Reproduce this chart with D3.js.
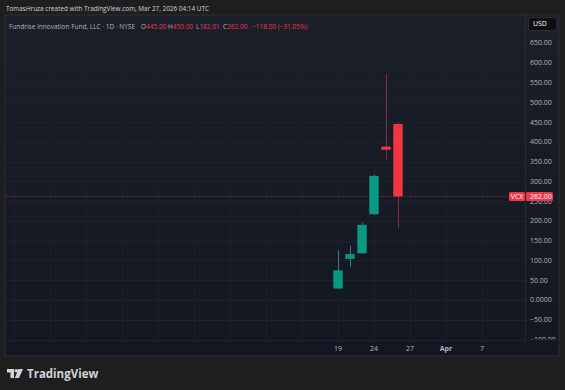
<!DOCTYPE html>
<html>
<head>
<meta charset="utf-8">
<script src="https://cdn.jsdelivr.net/npm/d3@7"></script>
<style>
  html, body { margin: 0; padding: 0; background: #1e1e1e; }
  svg { display: block; font-family: "Open Sans", "DejaVu Sans", sans-serif; }
</style>
</head>
<body>
<div id="chart"></div>
<script>
// daily bars, index 0 = Mar 19 2026
var dates = ["2026-03-19", "2026-03-20", "2026-03-23", "2026-03-24", "2026-03-25", "2026-03-26"];
var opens = [29, 104, 118, 217, 388, 445];
var highs = [126, 137, 195, 317, 572, 450];
var lows = [29, 84, 117, 215, 356, 182.01];
var closes = [75, 116, 190, 314, 380, 262];

var priceTicks = [650, 600, 550, 500, 450, 400, 350, 300, 250, 200, 150, 100, 50, 0, -50, -100];
var timeTicks = [0, 3, 6, 9, 12];
var timeLabels = ["19", "24", "27", "Apr", "7"];

var w = 565;
var h = 390;
var up = "#089981";
var down = "#f23645";

var svg = d3.select('#chart')
	.append('svg')
	.attr('width', w)
	.attr('height', h);

svg.append('rect')
	.attr('width', w).attr('height', h)
	.attr('fill', '#1e1e1e');

svg.append('text')
	.attr('x', 6).attr('y', 10.5)
	.attr('font-size', '7.2px')
	.attr('textLength', 203)
	.attr('lengthAdjust', 'spacingAndGlyphs')
	.attr('fill', '#d1d4dc')
	.text('TomasHruza created with TradingView.com, Mar 27, 2026 04:14 UTC');

// panel
var defs = svg.append('defs');
var grad = defs.append('linearGradient')
	.attr('id', 'bg').attr('x1', 0).attr('y1', 0).attr('x2', 0).attr('y2', 1);
grad.append('stop').attr('offset', '0%').attr('stop-color', '#1b1f2a');
grad.append('stop').attr('offset', '100%').attr('stop-color', '#131722');

var y = d3.scaleLinear().domain([0, 650]).range([300, 43]);
var x = d3.scaleLinear().domain([0, 1]).range([338, 350]);
var ly = y(closes[5]);

defs.append('clipPath').attr('id', 'pane')
	.append('rect').attr('x', 5).attr('y', 15).attr('width', 520).attr('height', 327);
defs.append('clipPath').attr('id', 'axisclip')
	.append('rect').attr('x', 525).attr('y', 15).attr('width', 34).attr('height', 324.5);
defs.append('clipPath').attr('id', 'underTag')
	.append('rect').attr('x', 525).attr('y', ly + 4.5).attr('width', 34).attr('height', 10);

svg.append('rect')
	.attr('x', 5).attr('y', 15)
	.attr('width', 554).attr('height', 341)
	.attr('fill', 'url(#bg)')
	.attr('stroke', '#2a2e39')
	.attr('stroke-width', 1);

var pane = svg.append('g').attr('clip-path', 'url(#pane)');

// horizontal grid
pane.selectAll('line.hgrid')
	.data(priceTicks)
	.enter()
	.append('line')
	.attr('class', 'hgrid')
	.attr('x1', 5).attr('x2', 525)
	.attr('y1', function(d) { return Math.round(y(d)) + 0.5; })
	.attr('y2', function(d) { return Math.round(y(d)) + 0.5; })
	.attr('stroke', '#1f2330')
	.attr('stroke-width', 1);

// vertical grid, every 3 bars
var vgrid = d3.range(-27, 15, 3);
pane.selectAll('line.vgrid')
	.data(vgrid)
	.enter()
	.append('line')
	.attr('class', 'vgrid')
	.attr('x1', function(d) { return Math.round(x(d)) + 0.5; })
	.attr('x2', function(d) { return Math.round(x(d)) + 0.5; })
	.attr('y1', 15).attr('y2', 342)
	.attr('stroke', '#1c202c')
	.attr('stroke-width', 1);

// last price line
pane.append('line')
	.attr('x1', 5).attr('x2', 525)
	.attr('y1', ly).attr('y2', ly)
	.attr('stroke', '#8a2a38')
	.attr('stroke-width', 1)
	.attr('stroke-dasharray', '1,1');

var bars = dates.map(function(d, i) {
	return { date: d, i: i, o: opens[i], h: highs[i], l: lows[i], c: closes[i] };
});

pane.selectAll('line.wick')
	.data(bars)
	.enter()
	.append('line')
	.attr('class', 'wick')
	.attr('x1', function(d) { return Math.round(x(d.i)) + 0.5; })
	.attr('x2', function(d) { return Math.round(x(d.i)) + 0.5; })
	.attr('y1', function(d) { return y(d.h); })
	.attr('y2', function(d) { return y(d.l); })
	.attr('stroke', function(d) { return d.c >= d.o ? '#3f7d73' : '#8c2a39'; })
	.attr('stroke-width', 1);

pane.selectAll('rect.body')
	.data(bars)
	.enter()
	.append('rect')
	.attr('class', 'body')
	.attr('x', function(d) { return x(d.i) - 4.7; })
	.attr('width', 9.4)
	.attr('y', function(d) { return y(Math.max(d.o, d.c)); })
	.attr('height', function(d) { return Math.max(1, Math.abs(y(d.o) - y(d.c))); })
	.attr('fill', function(d) { return d.c >= d.o ? up : down; });

// axis separator
svg.append('line')
	.attr('x1', 525.5).attr('x2', 525.5).attr('y1', 15).attr('y2', 342)
	.attr('stroke', '#262a35');

// price axis labels; the one hidden by the last price tag only shows below it
function priceFmt(d) { return d === 0 ? '0.0000' : d3.format('.2f')(d).replace('-', '\u2212'); }
var covered = function(d) { return Math.abs(y(d) - ly) < 9; };
svg.append('g').attr('clip-path', 'url(#axisclip)')
	.selectAll('text')
	.data(priceTicks.filter(function(d) { return !covered(d); }))
	.enter()
	.append('text')
	.attr('x', 530)
	.attr('y', function(d) { return y(d); })
	.attr('dy', '0.35em')
	.attr('font-size', '7px')
	.attr('fill', '#b2b5be')
	.text(priceFmt);
svg.append('g').attr('clip-path', 'url(#underTag)')
	.selectAll('text')
	.data(priceTicks.filter(covered))
	.enter()
	.append('text')
	.attr('x', 530)
	.attr('y', function(d) { return y(d); })
	.attr('dy', '0.35em')
	.attr('font-size', '7px')
	.attr('fill', '#b2b5be')
	.text(priceFmt);

// last price label
svg.append('rect')
	.attr('x', 509).attr('y', ly - 4.5).attr('width', 16).attr('height', 9)
	.attr('rx', 1.5)
	.attr('fill', down);
svg.append('text')
	.attr('x', 517).attr('y', ly).attr('dy', '0.35em')
	.attr('text-anchor', 'middle')
	.attr('font-size', '6.8px')
	.attr('fill', '#ffffff')
	.text('VCX');
svg.append('rect')
	.attr('x', 526).attr('y', ly - 4.5).attr('width', 27).attr('height', 9)
	.attr('rx', 1.5)
	.attr('fill', down);
svg.append('text')
	.attr('x', 530).attr('y', ly).attr('dy', '0.35em')
	.attr('font-size', '7px')
	.attr('fill', '#ffffff')
	.text(d3.format('.2f')(closes[5]));

// USD box
svg.append('rect')
	.attr('x', 528.5).attr('y', 17.5).attr('width', 28).attr('height', 13)
	.attr('rx', 2)
	.attr('fill', '#0e0e0e')
	.attr('stroke', '#2a2e39');
svg.append('text')
	.attr('x', 533).attr('y', 24).attr('dy', '0.35em')
	.attr('font-size', '6.8px')
	.attr('fill', '#ffffff')
	.text('USD');

// time axis
svg.selectAll('text.time')
	.data(timeTicks)
	.enter()
	.append('text')
	.attr('class', 'time')
	.attr('x', function(d) { return x(d); })
	.attr('y', 349)
	.attr('dy', '0.35em')
	.attr('text-anchor', 'middle')
	.attr('font-size', '7px')
	.attr('font-weight', function(d, i) { return timeLabels[i] === 'Apr' ? 'bold' : 'normal'; })
	.attr('fill', '#b2b5be')
	.text(function(d, i) { return timeLabels[i]; });

// legend line
var legend = svg.append('g')
	.attr('font-size', '6.5px');
legend.append('text')
	.attr('x', 9).attr('y', 27).attr('dy', '0.35em')
	.attr('fill', '#b2b5be')
	.text('Fundrise Innovation Fund, LLC \u00b7 1D \u00b7 NYSE');
var ohlc = [['O', opens[5], 141], ['H', highs[5], 168], ['L', lows[5], 196], ['C', closes[5], 223]];
ohlc.forEach(function(p) {
	var t = legend.append('text')
		.attr('x', p[2]).attr('y', 27).attr('dy', '0.35em');
	t.append('tspan').attr('fill', '#b2b5be').text(p[0]);
	t.append('tspan').attr('fill', down).text(d3.format('.2f')(p[1]));
});
var chg = closes[5] - closes[4];
legend.append('text')
	.attr('x', 252).attr('y', 27).attr('dy', '0.35em')
	.attr('fill', down)
	.text(d3.format('+.2f')(chg).replace('-', '\u2212') + ' (' + d3.format('+.2f')(chg / closes[4] * 100).replace('-', '\u2212') + '%)');

// footer logo
var logo = svg.append('g').attr('transform', 'translate(7,369)').attr('fill', '#d1d4dc');
logo.append('path').attr('d', 'M0,0 H7 V9 H3.5 V3.5 H0 Z');
logo.append('circle').attr('cx', 9.3).attr('cy', 1.8).attr('r', 1.8);
logo.append('path').attr('d', 'M11.5,0 H16 L12,9 H7.8 Z');
svg.append('text')
	.attr('x', 27).attr('y', 378)
	.attr('font-size', '11.5px')
	.attr('font-weight', 'bold')
	.attr('fill', '#d1d4dc')
	.text('TradingView');
</script>
</body>
</html>
